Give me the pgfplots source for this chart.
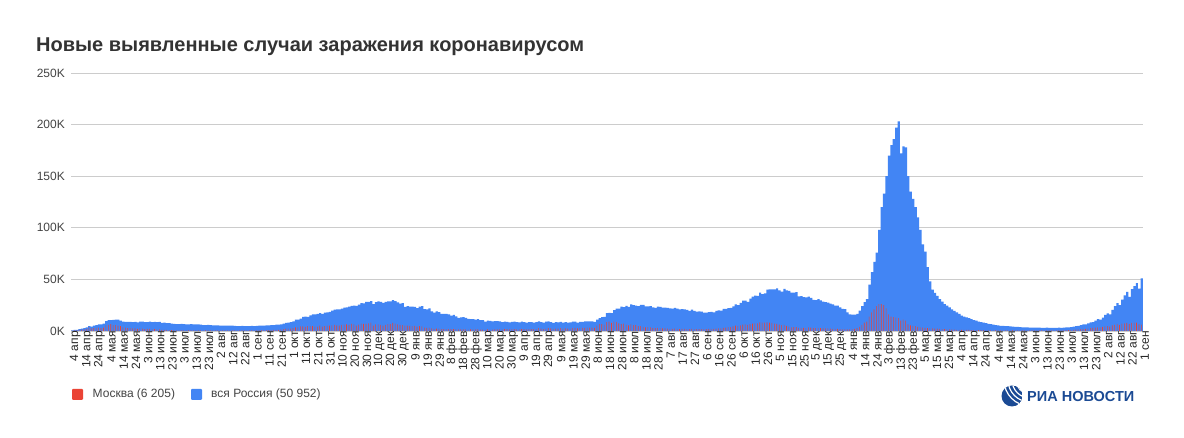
\documentclass[border=0pt]{standalone}
\usepackage{pgfplots}
\pgfplotsset{compat=1.18}
\usepackage{pgfplotstable}
\usepackage{fontspec}
\setmainfont{Liberation Sans}
\definecolor{ruBlue}{HTML}{4285F4}
\definecolor{mskRed}{HTML}{EA4335}
\definecolor{titleGray}{HTML}{333333}
\definecolor{labGray}{HTML}{444444}
\definecolor{gridGray}{HTML}{CCCCCC}
\definecolor{riaBlue}{HTML}{1B4A94}

% daily new cases, thousands, every 2nd day from 4 Apr 2020 (day 0) to 1 Sep 2022 (day 880)
\pgfplotstableread{
ru mo
0.6 0.4
1.0 0.6
1.2 0.7
1.8 1.1
2.2 1.4
2.8 1.5
3.4 2.0
4.8 3.6
4.3 2.6
5.2 2.8
5.8 3.1
6.4 3.2
6.4 2.9
7.1 3.3
9.6 5.4
10.6 5.9
10.6 6.7
10.7 5.8
11.0 5.6
10.9 5.3
10.0 4.7
9.2 3.5
8.9 3.2
8.8 2.9
8.9 2.9
8.6 2.6
8.9 2.5
8.4 2.1
9.0 2.5
9.0 2.3
8.5 1.9
8.7 2.0
9.0 2.0
8.6 1.6
8.8 1.7
8.7 1.6
8.8 1.6
7.8 1.0
8.0 1.1
7.7 1.0
7.6 0.9
7.1 0.8
6.9 0.8
6.7 0.7
6.6 0.6
6.8 0.7
6.7 0.7
6.4 0.6
6.5 0.6
6.6 0.6
6.5 0.6
6.4 0.6
6.4 0.6
6.1 0.6
5.8 0.6
5.8 0.6
5.9 0.6
5.6 0.6
5.5 0.6
5.5 0.7
5.4 0.7
5.2 0.7
5.3 0.7
5.2 0.7
5.1 0.7
5.1 0.7
5.1 0.7
5.0 0.7
4.7 0.6
4.8 0.6
4.9 0.6
4.7 0.6
4.7 0.6
4.7 0.6
5.0 0.7
4.7 0.6
5.0 0.7
5.2 0.7
5.2 0.7
5.2 0.8
5.4 0.8
5.4 0.9
5.7 0.9
5.8 1.0
6.1 1.1
6.2 1.2
6.4 1.6
7.2 1.8
7.9 2.2
8.1 2.3
8.5 2.4
9.4 2.7
10.9 3.5
11.1 3.6
12.1 4.4
13.6 4.5
13.9 4.1
13.8 4.6
15.2 4.6
16.0 4.6
16.0 4.3
16.5 4.3
17.3 5.2
16.6 4.3
17.7 4.8
18.1 5.3
18.6 5.1
19.8 5.4
20.6 6.0
21.0 5.5
21.0 5.3
21.6 5.9
22.7 6.2
22.8 6.4
23.6 5.9
24.3 6.9
24.6 6.4
24.3 5.3
25.5 6.1
27.1 7.2
26.7 6.8
28.1 6.9
28.2 7.5
29.0 8.0
26.1 5.3
27.9 6.4
28.6 6.5
28.1 6.0
27.3 5.3
28.2 6.0
28.6 6.7
28.8 6.6
29.9 7.8
29.0 7.2
27.8 6.4
26.5 5.9
27.0 5.8
23.4 5.3
24.2 5.2
23.5 5.0
23.7 4.7
23.3 4.9
22.2 4.2
23.6 4.6
24.0 4.5
21.1 3.3
20.9 3.0
21.8 3.2
19.0 2.5
17.7 2.0
19.0 2.3
18.4 2.2
16.6 1.7
16.7 1.8
16.7 1.9
16.0 1.9
14.9 1.7
15.7 1.9
14.2 1.7
12.8 1.5
13.2 1.6
13.4 1.6
12.7 1.6
11.7 1.4
11.5 1.5
11.6 1.5
11.1 1.5
11.4 1.5
10.6 1.4
10.5 1.4
9.1 1.1
10.0 1.5
9.9 1.4
9.4 1.4
9.6 1.5
9.6 1.6
9.3 1.6
8.5 1.5
9.1 1.8
8.9 1.7
8.3 1.6
8.8 1.8
9.0 1.9
8.6 1.6
8.3 1.5
9.0 1.9
8.7 1.7
8.2 1.6
8.7 1.8
8.6 1.9
8.1 1.7
8.5 1.9
9.3 2.8
8.7 2.2
8.1 1.9
9.0 2.3
9.3 2.8
8.6 2.6
7.8 2.0
8.6 2.4
8.4 2.3
8.9 2.7
8.1 2.2
8.6 2.6
8.2 2.3
8.3 2.3
9.0 2.9
9.0 3.0
8.1 2.5
8.8 3.1
8.9 3.1
9.3 3.1
9.3 3.2
9.4 3.3
9.4 3.3
8.9 3.0
11.0 5.2
12.5 6.6
13.4 6.7
13.7 6.2
17.3 8.6
17.6 9.1
17.4 7.9
20.2 9.1
21.7 8.8
21.7 7.5
23.5 6.7
23.2 7.1
24.4 6.2
23.4 5.4
25.8 6.4
25.1 5.8
24.7 5.6
24.0 4.8
25.3 4.7
25.2 4.1
23.8 3.6
23.8 3.8
24.1 3.5
23.0 2.9
22.4 2.9
23.6 3.0
23.3 2.7
22.6 2.6
22.6 2.5
22.3 2.4
21.9 2.1
21.6 2.1
22.3 2.3
21.6 2.1
20.9 1.9
21.1 2.1
21.0 2.0
20.4 1.8
19.6 1.8
20.6 2.0
19.5 1.8
18.8 1.7
18.9 1.8
18.8 1.9
17.9 1.7
17.9 1.8
18.3 2.0
18.6 2.1
18.1 2.0
19.6 2.4
19.9 2.6
19.7 2.5
21.4 3.1
21.4 3.3
22.2 3.8
22.4 3.8
23.9 4.5
25.8 5.2
25.1 4.9
27.2 5.5
29.4 6.2
29.4 6.5
28.2 5.9
31.3 6.7
33.2 7.1
34.3 7.5
34.1 7.4
37.1 8.4
35.7 8.1
36.4 8.0
40.1 8.3
40.3 8.1
40.4 7.8
40.4 7.2
41.3 6.8
39.4 6.2
38.1 5.7
40.8 6.0
39.3 4.9
38.8 4.3
37.1 3.6
37.2 3.7
37.7 3.8
33.6 3.0
33.9 3.1
32.9 3.1
32.6 2.9
33.4 3.4
32.1 3.3
30.2 2.9
29.9 2.7
30.9 3.0
29.6 2.8
28.5 2.5
28.0 2.5
27.4 2.5
26.5 2.3
25.9 2.1
24.7 2.1
24.7 2.0
23.0 1.8
21.4 1.6
21.2 1.9
18.0 1.6
16.1 1.6
15.8 1.8
15.9 2.0
16.5 2.9
19.8 4.1
24.0 6.0
28.0 8.0
31.0 9.0
45.0 14.0
57.0 18.0
67.0 21.0
76.0 24.0
98.0 26.0
120.0 26.0
133.0 25.0
150.0 22.0
170.0 16.0
180.0 14.0
186.0 13.5
197.0 13.0
203.0 12.5
172.0 10.0
179.0 11.0
178.0 10.0
150.0 6.5
135.0 5.5
128.0 5.0
120.0 4.6
110.0 4.0
98.0 3.6
84.0 3.2
77.0 3.0
62.0 2.8
48.0 2.6
40.0 2.5
37.0 2.4
34.0 2.2
31.0 2.0
28.5 1.9
26.0 1.8
24.5 1.6
23.0 1.5
21.0 1.4
19.5 1.3
18.0 1.2
16.5 1.2
15.0 1.1
14.0 1.1
13.3 1.0
12.5 1.0
11.5 0.9
10.6 0.9
10.0 0.9
9.2 0.8
8.7 0.8
8.1 0.8
7.6 0.7
7.0 0.7
6.6 0.7
6.2 0.6
5.8 0.6
5.4 0.6
5.0 0.6
5.0 0.6
4.7 0.5
4.6 0.5
4.4 0.5
4.2 0.5
4.0 0.5
3.9 0.5
3.7 0.5
3.6 0.5
3.5 0.5
3.4 0.5
3.3 0.5
3.3 0.5
3.2 0.5
3.3 0.5
3.2 0.5
3.1 0.5
3.1 0.5
3.2 0.6
3.1 0.5
3.0 0.5
3.1 0.6
3.0 0.6
3.2 0.6
3.1 0.7
3.3 0.7
3.4 0.8
3.5 0.9
3.8 1.0
4.3 1.2
4.7 1.4
5.0 1.5
5.6 1.8
6.3 2.0
6.5 2.1
7.4 2.4
8.4 2.8
8.7 3.0
10.0 3.2
11.5 3.6
11.0 3.5
13.0 4.0
15.5 4.4
17.0 4.6
16.0 4.2
20.5 5.5
24.0 5.9
27.0 6.8
25.0 5.8
30.5 7.1
34.5 7.5
38.0 7.9
33.0 6.6
40.5 7.9
43.5 8.1
46.5 8.0
41.0 6.4
51.0 6.2
}\covid

\begin{document}
\begin{tikzpicture}[x=1pt,y=1pt]
\fill[white] (0,0) rectangle (1184,438);
\node[anchor=base west, inner sep=0pt, text=titleGray,
      font=\bfseries\fontsize{20}{24}\selectfont] at (36,386)
      {Новые выявленные случаи заражения коронавирусом};
\begin{axis}[
  at={(71pt,107pt)}, anchor=south west,
  scale only axis, width=1072pt, height=258pt,
  xmin=-1, xmax=881, ymin=0, ymax=250,
  axis line style={draw=none},
  major tick length=0pt,
  ymajorgrids, grid style={gridGray, line width=0.8pt},
  ytick={0,50,100,150,200,250},
  yticklabels={0K,50K,100K,150K,200K,250K},
  yticklabel style={font=\fontsize{12}{14}\selectfont, text=labGray, anchor=east, inner sep=0pt, xshift=-6pt},
  xtick={0,10,...,880},
  xticklabels={4 апр,14 апр,24 апр,4 мая,14 мая,24 мая,3 июн,13 июн,23 июн,3 июл,13 июл,23 июл,2 авг,12 авг,22 авг,1 сен,11 сен,21 сен,1 окт,11 окт,21 окт,31 окт,10 ноя,20 ноя,30 ноя,10 дек,20 дек,30 дек,9 янв,19 янв,29 янв,8 фев,18 фев,28 фев,10 мар,20 мар,30 мар,9 апр,19 апр,29 апр,9 мая,19 мая,29 мая,8 июн,18 июн,28 июн,8 июл,18 июл,28 июл,7 авг,17 авг,27 авг,6 сен,16 сен,26 сен,6 окт,16 окт,26 окт,5 ноя,15 ноя,25 ноя,5 дек,15 дек,25 дек,4 янв,14 янв,24 янв,3 фев,13 фев,23 фев,5 мар,15 мар,25 мар,4 апр,14 апр,24 апр,4 мая,14 мая,24 мая,3 июн,13 июн,23 июн,3 июл,13 июл,23 июл,2 авг,12 авг,22 авг,1 сен},
  xticklabel style={font=\fontsize{12}{12}\selectfont, text=black!85, rotate=90, anchor=east, inner sep=0pt, yshift=-3pt},
]
\addplot[ybar, bar width=1.8, bar shift=0, fill=ruBlue, draw=none]
  table[x expr=\coordindex*2, y=ru] {\covid};
\addplot[ybar, bar width=0.5, bar shift=-0.3, fill=mskRed, draw=none]
  table[x expr=\coordindex*2, y=mo] {\covid};
\draw[black!80, line width=0.9pt] (axis cs:-1,0) -- (axis cs:881,0);
\end{axis}
% legend
\fill[mskRed, rounded corners=1pt] (72,38) rectangle (83,49);
\node[anchor=west, inner sep=0pt, text=labGray, font=\fontsize{12}{14}\selectfont] at (92.5,43.5) {Москва (6 205)};
\fill[ruBlue, rounded corners=1pt] (191,38) rectangle (202,49);
\node[anchor=west, inner sep=0pt, text=labGray, font=\fontsize{12}{14}\selectfont] at (211,43.5) {вся Россия (50 952)};
% logo
\begin{scope}
\clip (1012,42) circle (10.5);
\fill[riaBlue] (1012,42) circle (10.5);
\draw[white, line width=1.2pt] (1030,58) circle (14);
\draw[white, line width=1.2pt] (1030,58) circle (18);
\draw[white, line width=1.2pt] (1030,58) circle (22);
\draw[white, line width=1.2pt] (1030,58) circle (26);
\end{scope}
\node[anchor=west, inner sep=0pt, text=riaBlue, font=\bfseries\fontsize{14.5}{16}\selectfont] at (1027,41.5) {РИА НОВОСТИ};
\end{tikzpicture}
\end{document}
